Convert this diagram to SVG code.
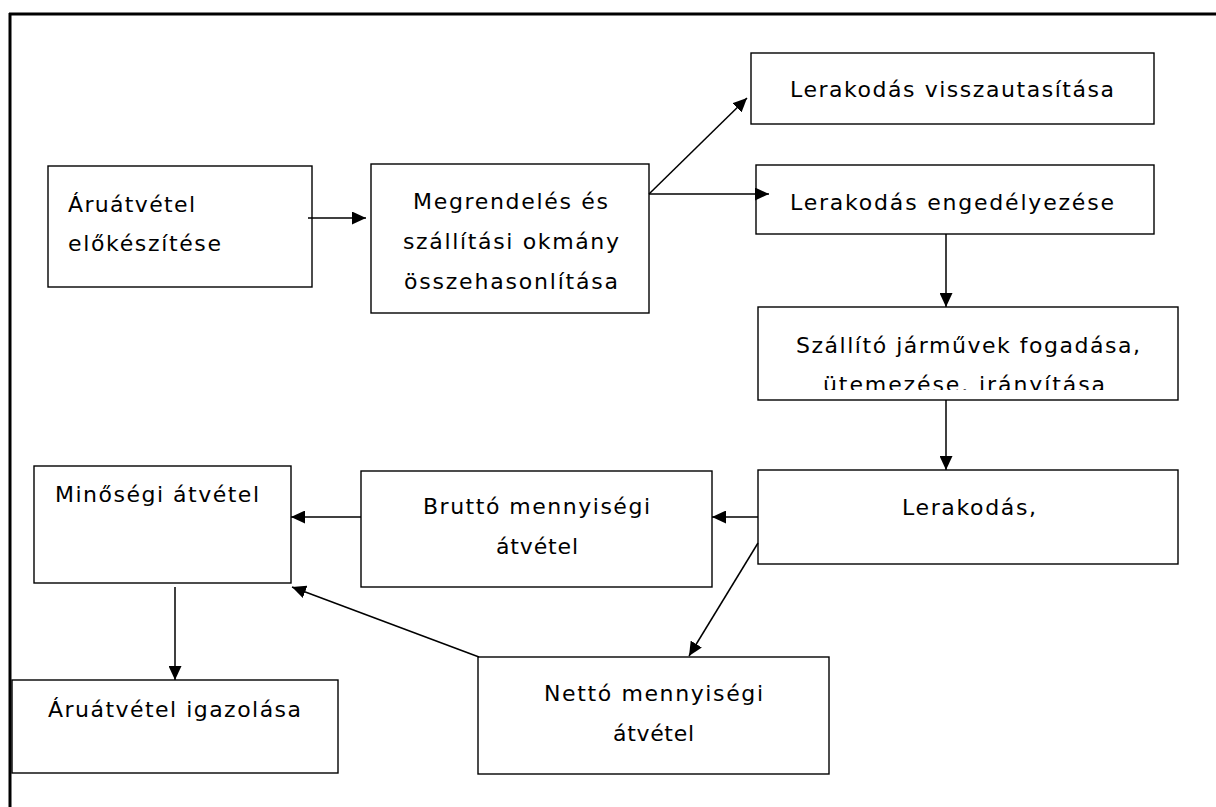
<svg xmlns="http://www.w3.org/2000/svg" width="1216" height="807" viewBox="0 0 1216 807">
<style>
  .box { fill: #ffffff; stroke: #000000; stroke-width: 1.4; }
  .lbl { font-family: "DejaVu Sans", "Liberation Sans", sans-serif; font-size: 22px; fill: #000000; }
  .con { stroke: #000000; stroke-width: 1.5; fill: none; marker-end: url(#arr); }
  .frame { stroke: #000000; stroke-width: 3; fill: none; }
</style>
<defs>
  <marker id="arr" markerUnits="userSpaceOnUse" markerWidth="14" markerHeight="13" refX="14" refY="6.5" orient="auto">
    <path d="M0,0 L14,6.5 L0,13 z" fill="#000000"/>
  </marker>
  <clipPath id="clip5">
    <rect x="758" y="306" width="420" height="84"/>
  </clipPath>
</defs>
<rect x="0" y="0" width="1216" height="807" fill="#ffffff"/>
<g id="frame">
  <line class="frame" x1="9" y1="14" x2="1216" y2="14"/>
  <line class="frame" x1="10" y1="13" x2="10" y2="807"/>
</g>
<g id="node-aruatvetel-elokeszitese">
  <rect class="box" x="48" y="166" width="264" height="121"/>
  <text class="lbl" x="68" y="212" textLength="127" lengthAdjust="spacing">Áruátvétel</text>
  <text class="lbl" x="68" y="251" textLength="153" lengthAdjust="spacing">előkészítése</text>
</g>
<g id="node-megrendeles">
  <rect class="box" x="371" y="164" width="278" height="149"/>
  <text class="lbl" x="413" y="209" textLength="195" lengthAdjust="spacing">Megrendelés és</text>
  <text class="lbl" x="403" y="249" textLength="216" lengthAdjust="spacing">szállítási okmány</text>
  <text class="lbl" x="404" y="289" textLength="214" lengthAdjust="spacing">összehasonlítása</text>
</g>
<g id="node-lerakodas-visszautasitasa">
  <rect class="box" x="751" y="53" width="403" height="71"/>
  <text class="lbl" x="790" y="97" textLength="324" lengthAdjust="spacing">Lerakodás visszautasítása</text>
</g>
<g id="node-lerakodas-engedelyezese">
  <rect class="box" x="756" y="165" width="398" height="69"/>
  <text class="lbl" x="790" y="210" textLength="324" lengthAdjust="spacing">Lerakodás engedélyezése</text>
</g>
<g id="node-szallito-jarmuvek">
  <rect class="box" x="758" y="307" width="420" height="93"/>
  <text class="lbl" x="796" y="353" textLength="344" lengthAdjust="spacing">Szállító járművek fogadása,</text>
  <text class="lbl" x="823" y="392" textLength="282" lengthAdjust="spacing" clip-path="url(#clip5)">ütemezése. irányítása</text>
</g>
<g id="node-lerakodas">
  <rect class="box" x="758" y="470" width="420" height="94"/>
  <text class="lbl" x="902" y="515" textLength="134" lengthAdjust="spacing">Lerakodás,</text>
</g>
<g id="node-brutto">
  <rect class="box" x="361" y="471" width="351" height="116"/>
  <text class="lbl" x="423" y="514" textLength="227" lengthAdjust="spacing">Bruttó mennyiségi</text>
  <text class="lbl" x="496" y="554" textLength="82" lengthAdjust="spacing">átvétel</text>
</g>
<g id="node-netto">
  <rect class="box" x="478" y="657" width="351" height="117"/>
  <text class="lbl" x="544" y="701" textLength="219" lengthAdjust="spacing">Nettó mennyiségi</text>
  <text class="lbl" x="613" y="741" textLength="81" lengthAdjust="spacing">átvétel</text>
</g>
<g id="node-minosegi">
  <rect class="box" x="34" y="466" width="257" height="117"/>
  <text class="lbl" x="55" y="502" textLength="204" lengthAdjust="spacing">Minőségi átvétel</text>
</g>
<g id="node-aruatvetel-igazolasa">
  <rect class="box" x="12" y="680" width="326" height="93"/>
  <text class="lbl" x="48" y="717" textLength="253" lengthAdjust="spacing">Áruátvétel igazolása</text>
</g>
<g id="connectors">
  <line class="con" x1="308" y1="218" x2="366" y2="218"/>
  <line class="con" x1="649" y1="194" x2="747" y2="98"/>
  <line class="con" x1="649" y1="194" x2="769" y2="194"/>
  <line class="con" x1="946" y1="234" x2="946" y2="307"/>
  <line class="con" x1="946" y1="400" x2="946" y2="470"/>
  <line class="con" x1="758" y1="517" x2="712" y2="517"/>
  <line class="con" x1="758" y1="543" x2="689" y2="656"/>
  <line class="con" x1="361" y1="517" x2="291" y2="517"/>
  <line class="con" x1="479" y1="657" x2="292" y2="587"/>
  <line class="con" x1="175" y1="587" x2="175" y2="680"/>
</g>
</svg>
